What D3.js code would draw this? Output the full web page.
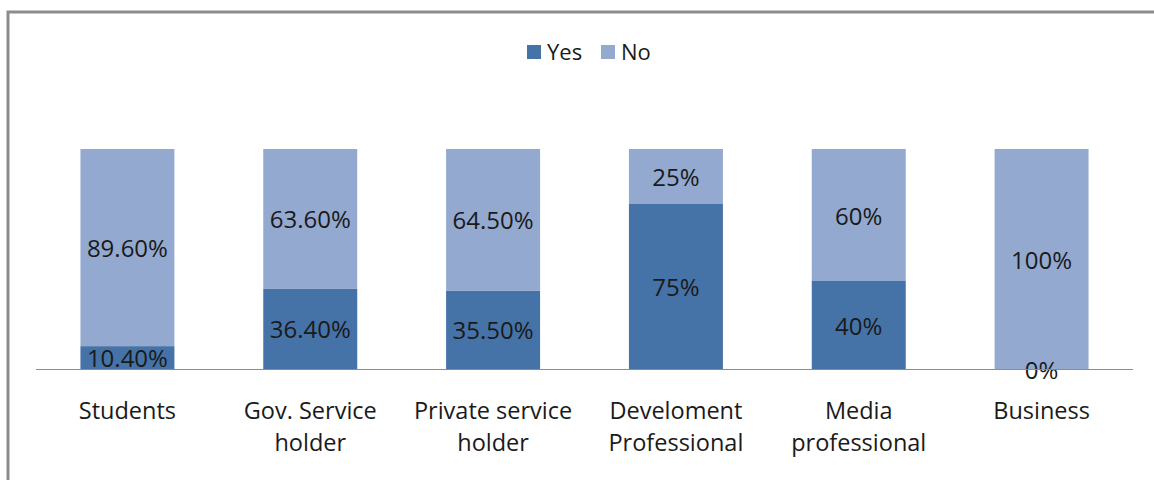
<!DOCTYPE html>
<html>
<head>
<meta charset="utf-8">
<script src="https://cdn.jsdelivr.net/npm/d3@7"></script>
<style>
  html, body { margin: 0; padding: 0; background: #fff; }
  svg { display: block; }
  text { font-family: "Open Sans", "Liberation Sans", sans-serif; fill: #1a1a1a; }
</style>
</head>
<body>
<svg id="chart" width="1154" height="480"></svg>
<script>
// Occupation groups (two-line labels split by "\n")
const categories = ["Students", "Gov. Service\nholder", "Private service\nholder", "Develoment\nProfessional", "Media\nprofessional", "Business"];
const yesValues = [10.4, 36.4, 35.5, 75, 40, 0];
const noValues  = [89.6, 63.6, 64.5, 25, 60, 100];
const yesLabels = ["10.40%", "36.40%", "35.50%", "75%", "40%", "0%"];
const noLabels  = ["89.60%", "63.60%", "64.50%", "25%", "60%", "100%"];
const seriesNames = ["Yes", "No"];
const colors = ["#4572A7", "#93A9CF"];

const svg = d3.select("#chart");

// outer frame (top and left edges)
svg.append("path")
  .attr("d", "M8,480 V12 H1154")
  .attr("fill", "none")
  .attr("stroke", "#8c8c8c")
  .attr("stroke-width", 3);

const x = d3.scaleBand()
  .domain(categories)
  .range([36, 1133])
  .paddingInner(0.486)
  .paddingOuter(0.243);

const y = d3.scaleLinear().domain([0, 100]).range([369, 149]);

const rows = categories.map((c, i) => ({
  cat: c, Yes: yesValues[i], No: noValues[i], yl: yesLabels[i], nl: noLabels[i]
}));
const stacked = d3.stack().keys(seriesNames)(rows);

const g = svg.append("g");
stacked.forEach((layer, li) => {
  g.selectAll(null)
    .data(layer)
    .join("rect")
    .attr("x", d => x(d.data.cat))
    .attr("width", x.bandwidth())
    .attr("y", d => y(d[1]))
    .attr("height", d => y(d[0]) - y(d[1]))
    .attr("fill", colors[li]);
});

// baseline axis
svg.append("line")
  .attr("x1", 36).attr("x2", 1133)
  .attr("y1", 369.5).attr("y2", 369.5)
  .attr("stroke", "#8c8c8c").attr("stroke-width", 1);

// value labels centred in each segment
stacked.forEach((layer, li) => {
  g.selectAll(null)
    .data(layer)
    .join("text")
    .attr("x", d => x(d.data.cat) + x.bandwidth() / 2)
    .attr("y", d => (y(d[0]) + y(d[1])) / 2)
    .attr("text-anchor", "middle")
    .attr("dominant-baseline", "central")
    .attr("font-size", 24)
    .text(d => li === 0 ? d.data.yl : d.data.nl);
});

// category labels
categories.forEach(c => {
  const t = svg.append("text")
    .attr("x", x(c) + x.bandwidth() / 2)
    .attr("y", 410)
    .attr("text-anchor", "middle")
    .attr("dominant-baseline", "central")
    .attr("font-size", 23.5);
  c.split("\n").forEach((line, k) => {
    t.append("tspan")
      .attr("x", x(c) + x.bandwidth() / 2)
      .attr("dy", k === 0 ? 0 : 32)
      .text(line);
  });
});

// legend
const legend = svg.append("g");
const legendItems = [{ name: "Yes", x: 527 }, { name: "No", x: 601 }];
legendItems.forEach((it, i) => {
  legend.append("rect")
    .attr("x", it.x).attr("y", 45)
    .attr("width", 14).attr("height", 14)
    .attr("fill", colors[i]);
  legend.append("text")
    .attr("x", it.x + 20).attr("y", 51)
    .attr("dominant-baseline", "central")
    .attr("font-size", 22)
    .text(it.name);
});
</script>
</body>
</html>
